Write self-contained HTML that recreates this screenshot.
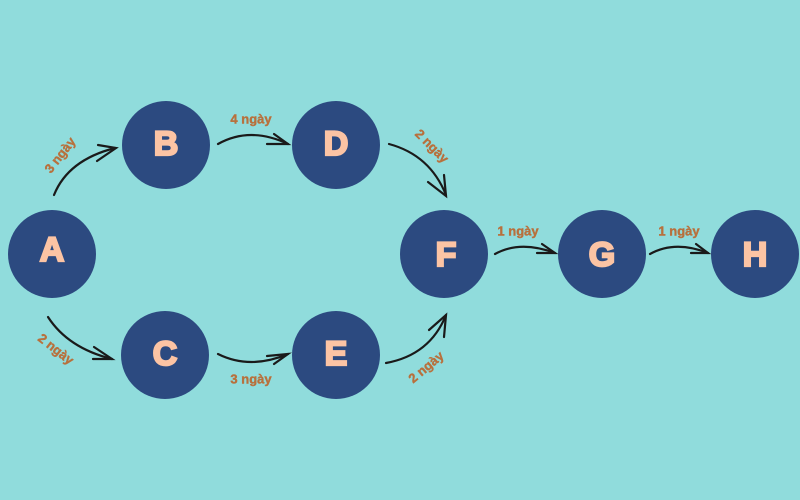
<!DOCTYPE html>
<html><head><meta charset="utf-8"><style>
html,body{margin:0;padding:0;background:#90dcdc;}
svg{display:block;}
.n{fill:#2c4a80;}
.t{fill:#fcc4a4;stroke:#fcc4a4;stroke-width:2.2;font:bold 34px "Liberation Sans",sans-serif;text-anchor:middle;dominant-baseline:central;}
.l{fill:#b8703c;stroke:#b8703c;stroke-width:0.4;font:bold 13px "Liberation Sans",sans-serif;text-anchor:middle;dominant-baseline:central;}
.a{fill:none;stroke:#1a1a1a;stroke-width:2.2;stroke-linecap:round;}
</style></head><body>
<svg width="800" height="500" viewBox="0 0 800 500" xmlns="http://www.w3.org/2000/svg">
<rect width="800" height="500" fill="#90dcdc"/>
<circle class="n" cx="52" cy="254" r="44"/><text class="t" x="52" y="250">A</text>
<circle class="n" cx="166" cy="145" r="44"/><text class="t" x="166" y="144">B</text>
<circle class="n" cx="336" cy="145" r="44"/><text class="t" x="336" y="144">D</text>
<circle class="n" cx="165" cy="355" r="44"/><text class="t" x="165" y="354">C</text>
<circle class="n" cx="336" cy="355" r="44"/><text class="t" x="336" y="354">E</text>
<circle class="n" cx="444" cy="254" r="44"/><text class="t" x="446" y="255">F</text>
<circle class="n" cx="602" cy="254" r="44"/><text class="t" x="602" y="255">G</text>
<circle class="n" cx="755" cy="254" r="44"/><text class="t" x="755" y="255">H</text>

<path class="a" d="M54 195 Q68 160 115 148"/><path class="a" d="M98 145 L116 148 L97 161"/>
<path class="a" d="M218 144 Q250 126 288 144"/><path class="a" d="M274 134 L288 144 L267 144"/>
<path class="a" d="M389 144 Q430 155 446 195"/><path class="a" d="M428 182 L446 196 L444 175"/>
<path class="a" d="M48 317 Q68 348 112 359"/><path class="a" d="M94 347 L112 359 L93 359"/>
<path class="a" d="M218 354 Q250 370 288 354"/><path class="a" d="M267 356 L288 354 L274 364"/>
<path class="a" d="M386 363 Q430 355 446 315"/><path class="a" d="M429 330 L446 315 L444 337"/>
<path class="a" d="M495 254 Q520 240 555 253"/><path class="a" d="M542 244 L555 253 L537 253"/>
<path class="a" d="M650 254 Q675 240 708 253"/><path class="a" d="M696 244 L708 253 L691 253"/>

<text class="l" transform="translate(60,155) rotate(-52)">3 ngày</text>
<text class="l" x="251" y="119">4 ngày</text>
<text class="l" transform="translate(432,146) rotate(45)">2 ngày</text>
<text class="l" transform="translate(56,349) rotate(38)">2 ngày</text>
<text class="l" x="251" y="379">3 ngày</text>
<text class="l" transform="translate(426,367) rotate(-40)">2 ngày</text>
<text class="l" x="518" y="231">1 ngày</text>
<text class="l" x="679" y="231">1 ngày</text>
</svg>
</body></html>
